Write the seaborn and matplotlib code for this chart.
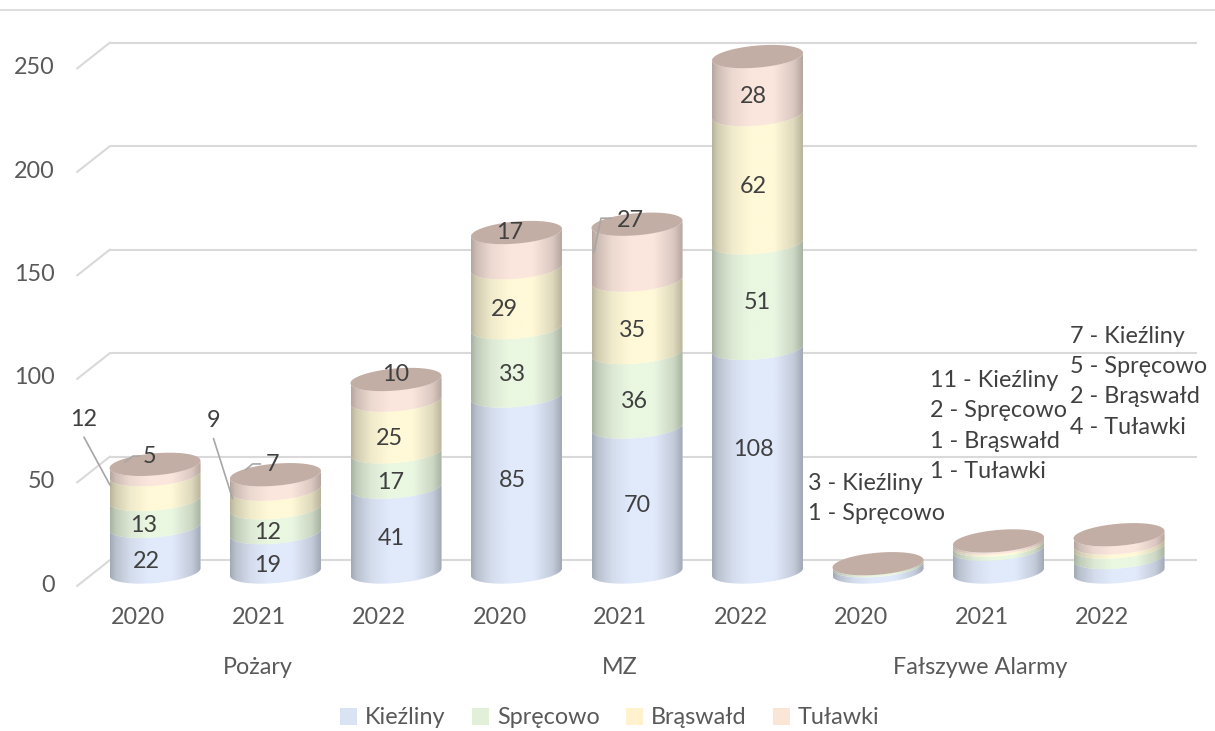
"""Skumulowany wykres "walcowy" interwencji wg jednostek."""
import numpy as np
import pandas as pd
import matplotlib
matplotlib.use("Agg")
import matplotlib.pyplot as plt
from matplotlib.lines import Line2D
from matplotlib.patches import Polygon
from matplotlib.transforms import Affine2D
import seaborn as sns

# dane
groups = ['Pożary', 'MZ', 'Fałszywe Alarmy']
years = ['2020', '2021', '2022']
series = ['Kieźliny', 'Spręcowo', 'Brąswałd', 'Tuławki']
kiezliny = [22, 19, 41, 85, 70, 108, 3, 11, 7]
sprecowo = [13, 12, 17, 33, 36, 51, 1, 2, 5]
braswald = [12, 9, 25, 29, 35, 62, 0, 1, 2]
tulawki = [5, 7, 10, 17, 27, 28, 0, 1, 4]
y_ticks = [0, 50, 100, 150, 200, 250]

# przesuniecia etykiet w pikselach od srodka segmentu (dx, dy w dol)
label_offsets = [
    [(-9, 12), (-8, 13), (-5, 9), (-4, -4), (0, 6), (-4, -11)],
    [(-11, 12), (-8, 12), (-5, 12.5), (-4, 13), (-3, 12), (0, 7)],
    [(-71, -68), (-62, -78), (-7, 12), (-12, 12), (-5, 14), (-4, 8)],
    [(-5, -13.5), (-3, -17), (0, -15), (-7, -18), (-7, -32), (-4, 11)],
]
# linie odniesienia: (seria, slupek, punkty w pikselach od srodka segmentu)
leaders = [
    (2, 0, [(-71, -50), (-45, -2)]),
    (3, 0, [(-30, -7.5), (-22, -13.5), (-15, -13.5)]),
    (2, 1, [(-62, -60), (-43, 0)]),
    (3, 1, [(-30, -12), (-23, -18), (-15, -18)]),
    (3, 4, [(-43, 0), (-36, -34), (-26, -34)]),
]
# bloki tekstu dla Falszywych Alarmow: slupek -> (dx, dy) od srodka szczytu
text_blocks = {6: (-70, -65), 7: (-68, -115), 8: (-49, -153)}

# geometria w pikselach
W, H = 1215, 731
STEP_X = 120.5
UNIT_Y = 2.07
HALF_W = 45.5
MINOR = 11
TILT = np.deg2rad(5)
FS = 16.8

colors = ['#e1eafb', '#eaf7e1', '#fff9d8', '#fbe6dd']
legend_colors = ['#dae3f3', '#e2f0d9', '#fff2cc', '#fbe5d6']
top_color = '#c3aea5'
grid_color = '#d9d9d9'
axis_text = '#595959'
label_text = '#404040'

sns.set_theme(style='white')
plt.rcParams['font.family'] = ['Lato', 'DejaVu Sans']
plt.rcParams['font.size'] = FS

values = [kiezliny, sprecowo, braswald, tulawki]
categories = [f'{g} {y}' for g in groups for y in years]
df = pd.DataFrame({
    'kategoria': categories * len(series),
    'seria': np.repeat(series, len(categories)),
    'wartosc': np.concatenate(values),
})

fig = plt.figure(figsize=(W / 100, H / 100), dpi=100, facecolor='white')
ax = fig.add_axes([94.75 / W, (H - 572) / H, 9 * STEP_X / W, 250 * UNIT_Y / H])
ax.set_facecolor('none')


def arc(x, y, t):
    """Punkty pochylonej elipsy wokol (x, y) w jednostkach danych."""
    a = HALF_W / np.cos(TILT)
    dx = a * np.cos(t) * np.cos(TILT) - MINOR * np.sin(t) * np.sin(TILT)
    dy = a * np.cos(t) * np.sin(TILT) + MINOR * np.sin(t) * np.cos(TILT)
    return np.column_stack([x + dx / STEP_X, y + dy / UNIT_Y])


# siatka tylnej sciany i ukosne odcinki podlogi
back = 12 / UNIT_Y
ax.hlines([v + back for v in y_ticks], -0.373, 8.647, color=grid_color, lw=1.5,
          clip_on=False, zorder=0)
for v in y_ticks:
    ax.plot([-0.647, -0.373], [v - 14 / UNIT_Y, v + back], color=grid_color, lw=1.5,
            clip_on=False, zorder=0)

# slupki
bottom = np.zeros(len(categories))
profile_x = [0, 0.06, 0.22, 0.42, 0.68, 0.9, 1]
profile_y = [0.72, 0.82, 0.94, 1.0, 1.0, 0.87, 0.72]
shade = np.interp(np.linspace(0, 1, 256), profile_x, profile_y)
front = np.linspace(np.pi, 2 * np.pi, 60)
bars = []
for name, vals, col in zip(series, values, colors):
    sns.barplot(data=df[df['seria'] == name], x='kategoria', y='wartosc', order=categories,
                color=col, saturation=1, width=2 * HALF_W / STEP_X, bottom=bottom,
                errorbar=None, ax=ax, zorder=2)
    bars.append(ax.containers[-1])
    bottom = bottom + np.array(vals)

# walce: kazdy prostokat przycinany do bryly i cieniowany
for col, container in zip(colors, bars):
    rgb = np.array(matplotlib.colors.to_rgb(col))
    grad = (rgb[None, :] * shade[:, None])[None, :, :]
    for rect in container:
        if rect.get_height() <= 0:
            rect.set_visible(False)
            continue
        cx = rect.get_x() + rect.get_width() / 2
        y0, y1 = rect.get_y(), rect.get_y() + rect.get_height()
        body = Polygon(np.vstack([arc(cx, y0, front), arc(cx, y1, front[::-1])]),
                       closed=True, transform=ax.transData)
        rect.set_clip_path(body)
        rect.set_edgecolor('none')
        half = rect.get_width() / 2
        im = ax.imshow(grad, extent=(cx - half, cx + half, y0 - 8, y1 + 8), aspect='auto',
                       interpolation='bilinear', zorder=3)
        im.set_clip_box(fig.bbox)
        im.set_clip_path(body)

totals = bottom
for i, total in enumerate(totals):
    ax.add_patch(Polygon(arc(i, total, np.linspace(0, 2 * np.pi, 120)), closed=True,
                         facecolor=top_color, edgecolor='none', zorder=4, clip_on=False))

ax.set_xlim(-0.5, 8.5)
ax.set_ylim(0, 250)
sns.despine(ax=ax, left=True, bottom=True)
ax.set_xlabel('')
ax.set_ylabel('')
ax.set_xticks(range(len(categories)))
ax.set_xticklabels(years * len(groups))
ax.set_yticks(y_ticks)
ax.tick_params(axis='x', length=0, pad=25, labelsize=FS, labelcolor=axis_text)
ax.tick_params(axis='y', length=0, pad=29, labelsize=FS, labelcolor=axis_text)
for lab in ax.get_xticklabels():
    lab.set_transform(lab.get_transform() + Affine2D().translate(-17, 0))
for lab in ax.get_yticklabels():
    lab.set_transform(lab.get_transform() + Affine2D().translate(0, -11))

# etykiety wartosci w slupkach Pozary i MZ
cum = np.cumsum(np.array(values), axis=0)
mids = cum - np.array(values) / 2
for s, offs in enumerate(label_offsets):
    for i, (dx, dy) in enumerate(offs):
        ax.annotate(str(values[s][i]), xy=(i, mids[s][i]), xytext=(dx, -dy),
                    textcoords='offset pixels', ha='center', va='center', color=label_text,
                    fontsize=FS, zorder=6, annotation_clip=False)

for s, i, pts in leaders:
    xs = [i + p[0] / STEP_X for p in pts]
    ys = [mids[s][i] - p[1] / UNIT_Y for p in pts]
    ax.plot(xs, ys, color='#a6a6a6', lw=1.2, clip_on=False, zorder=5)

# opisy tekstowe Falszywych Alarmow
for i, (dx, dy) in text_blocks.items():
    lines = [f'{values[s][i]} - {series[s]}' for s in range(len(series)) if values[s][i] > 0]
    ax.annotate('\n'.join(lines), xy=(i, totals[i]), xytext=(dx, -dy),
                textcoords='offset pixels', ha='left', va='center', color=label_text,
                fontsize=FS, linespacing=1.55, zorder=6, annotation_clip=False)

# nazwy grup
for g, x in zip(groups, [0.855, 3.859, 6.846]):
    ax.annotate(g, xy=(x, 0), xytext=(0, -96), textcoords='offset pixels', ha='center',
                va='center', color=axis_text, fontsize=FS, annotation_clip=False)

handles = [plt.Rectangle((0, 0), 1, 1, facecolor=c, edgecolor='none') for c in legend_colors]
leg = fig.legend(handles, series, loc='center', bbox_to_anchor=(610 / W, (H - 718) / H), ncol=4,
                 frameon=False, handlelength=0.7, handleheight=0.7, handletextpad=0.35,
                 columnspacing=1.15, fontsize=FS, labelcolor=axis_text)

fig.add_artist(Line2D([0, 1], [(H - 10) / H] * 2, color=grid_color, lw=1.2))

fig.savefig('out.png', dpi=100)
